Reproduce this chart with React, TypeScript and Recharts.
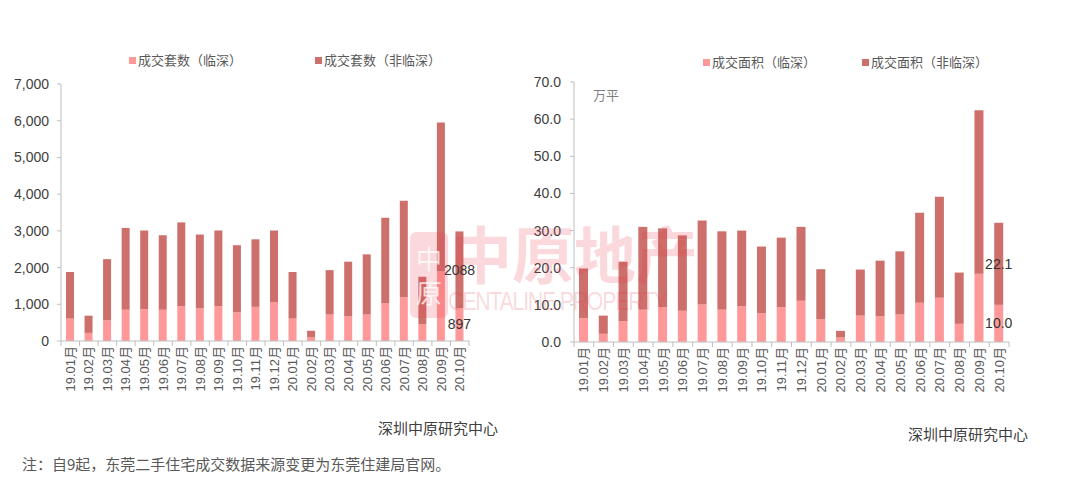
import React from 'react';
import { BarChart, Bar, XAxis, YAxis, LabelList } from 'recharts';

const months = [
  '19.01月', '19.02月', '19.03月', '19.04月', '19.05月', '19.06月', '19.07月', '19.08月', '19.09月', '19.10月', '19.11月',
  '19.12月', '20.01月', '20.02月', '20.03月', '20.04月', '20.05月', '20.06月', '20.07月', '20.08月', '20.09月', '20.10月',
];

// 成交套数
const unitsLinshen = [610, 220, 560, 850, 870, 850, 950, 890, 950, 780, 930, 1060, 610, 110, 720, 670, 720, 1030, 1190, 450, 1890, 897];
const unitsNonLinshen = [1270, 470, 1670, 2230, 2140, 2030, 2280, 2010, 2060, 1830, 1840, 1950, 1270, 170, 1210, 1490, 1640, 2330, 2630, 1300, 4060, 2088];

// 成交面积 (万平)
const areaLinshen = [6.4, 2.2, 5.6, 8.7, 9.4, 8.4, 10.1, 8.7, 9.6, 7.7, 9.4, 11.1, 6.1, 1.2, 7.1, 6.9, 7.4, 10.6, 11.9, 4.9, 18.4, 10.0];
const areaNonLinshen = [13.4, 4.9, 16.0, 22.3, 21.2, 20.3, 22.6, 21.1, 20.4, 18.0, 18.7, 19.9, 13.5, 1.8, 12.4, 15.0, 17.0, 24.2, 27.2, 13.8, 44.0, 22.1];

const unitTicks = [0, 1000, 2000, 3000, 4000, 5000, 6000, 7000];
const areaTicks = [0, 10, 20, 30, 40, 50, 60, 70];

const unitsLegend = ['成交套数（临深）', '成交套数（非临深）'];
const areaLegend = ['成交面积（临深）', '成交面积（非临深）'];

const LIGHT = '#FF9999';
const DARK = '#CD6F6B';
const AXIS = '#BFBFBF';
const FONT = '"Liberation Sans", "Noto Sans CJK SC", Arial, sans-serif';
const CJK = '"Noto Sans CJK SC", "Liberation Sans", sans-serif';

const unitsData = months.map((m, i) => ({ month: m, lin: unitsLinshen[i], non: unitsNonLinshen[i] }));
const areaData = months.map((m, i) => ({ month: m, lin: areaLinshen[i], non: areaNonLinshen[i] }));

const makeXTick = (band: number, count: number) => (props: any) => {
  const { x, y, payload, index } = props;
  return (
    <g transform={`translate(${x},${y})`}>
      <line x1={-band / 2} x2={-band / 2} y1={0} y2={5} stroke={AXIS} />
      {index === count - 1 ? <line x1={band / 2} x2={band / 2} y1={0} y2={5} stroke={AXIS} /> : null}
      <text
        transform="rotate(-90)"
        x={-5}
        y={0}
        dy="0.35em"
        textAnchor="end"
        fontSize={13}
        fill="#595959"
        fontFamily={FONT}
      >
        {payload.value}
      </text>
    </g>
  );
};

const makeLastLabel = (count: number, fmt: (v: number) => string) => (props: any) => {
  const { index, value } = props;
  const vb = props.viewBox || {};
  const x = props.x ?? vb.x;
  const y = props.y ?? vb.y;
  const width = props.width ?? vb.width;
  const height = props.height ?? vb.height;
  if (index !== count - 1) return null;
  return (
    <text
      x={x + width / 2}
      y={y + height / 2}
      dy="0.35em"
      textAnchor="middle"
      fontSize={14}
      fill="#333333"
      fontFamily={FONT}
    >
      {fmt(Number(value))}
    </text>
  );
};

const LegendItem = ({ left, top, color, label }: { left: number; top: number; color: string; label: string }) => (
  <div style={{ position: 'absolute', left, top, display: 'flex', alignItems: 'center', whiteSpace: 'nowrap' }}>
    <span style={{ display: 'inline-block', width: 7, height: 7, background: color, marginRight: 2 }} />
    <span style={{ fontSize: 13, color: '#595959', fontFamily: CJK, lineHeight: '16px' }}>{label}</span>
  </div>
);

export default function App() {
  const n = months.length;
  return (
    <div
      style={{
        position: 'absolute',
        left: 0,
        top: 0,
        width: 1080,
        height: 490,
        background: '#ffffff',
        overflow: 'hidden',
        fontFamily: FONT,
      }}
    >
      {/* Left chart */}
      <div style={{ position: 'absolute', left: 0, top: 0 }}>
        <BarChart width={540} height={400} data={unitsData} margin={{ top: 84, right: 71, bottom: 4, left: 0 }}>
          <XAxis
            dataKey="month"
            interval={0}
            height={55}
            tickSize={0}
            tickMargin={0}
            axisLine={{ stroke: AXIS }}
            tickLine={false}
            tick={makeXTick(408 / 22, n)}
          />
          <YAxis
            width={61}
            domain={[0, 7000]}
            ticks={unitTicks}
            interval={0}
            tickSize={4}
            tickMargin={8}
            axisLine={{ stroke: AXIS }}
            tickLine={{ stroke: AXIS }}
            tick={{ fontSize: 14, fill: '#404040', fontFamily: FONT }}
            tickFormatter={(v: number) => v.toLocaleString('en-US')}
          />
          <Bar dataKey="lin" stackId="a" fill={LIGHT} barSize={8} isAnimationActive={false}>
            <LabelList dataKey="lin" content={makeLastLabel(n, (v) => String(v))} />
          </Bar>
          <Bar dataKey="non" stackId="a" fill={DARK} barSize={8} isAnimationActive={false}>
            <LabelList dataKey="non" content={makeLastLabel(n, (v) => String(v))} />
          </Bar>
        </BarChart>
      </div>

      {/* Right chart */}
      <div style={{ position: 'absolute', left: 520, top: 0 }}>
        <BarChart width={560} height={400} data={areaData} margin={{ top: 82, right: 71, bottom: 3, left: 0 }}>
          <XAxis
            dataKey="month"
            interval={0}
            height={55}
            tickSize={0}
            tickMargin={0}
            axisLine={{ stroke: AXIS }}
            tickLine={false}
            tick={makeXTick(435 / 22, n)}
          />
          <YAxis
            width={54}
            domain={[0, 70]}
            ticks={areaTicks}
            interval={0}
            tickSize={4}
            tickMargin={9}
            axisLine={{ stroke: AXIS }}
            tickLine={{ stroke: AXIS }}
            tick={{ fontSize: 14, fill: '#404040', fontFamily: FONT }}
            tickFormatter={(v: number) => v.toFixed(1)}
          />
          <Bar dataKey="lin" stackId="b" fill={LIGHT} barSize={9} isAnimationActive={false}>
            <LabelList dataKey="lin" content={makeLastLabel(n, (v) => v.toFixed(1))} />
          </Bar>
          <Bar dataKey="non" stackId="b" fill={DARK} barSize={9} isAnimationActive={false}>
            <LabelList dataKey="non" content={makeLastLabel(n, (v) => v.toFixed(1))} />
          </Bar>
        </BarChart>
      </div>

      {/* Legends */}
      <LegendItem left={129} top={52} color={LIGHT} label={unitsLegend[0]} />
      <LegendItem left={315} top={52} color={DARK} label={unitsLegend[1]} />
      <LegendItem left={703} top={54} color={LIGHT} label={areaLegend[0]} />
      <LegendItem left={862} top={54} color={DARK} label={areaLegend[1]} />

      {/* Unit label */}
      <div style={{ position: 'absolute', left: 593, top: 85, fontSize: 13, color: '#7F7F7F', fontFamily: CJK }}>万平</div>

      {/* Sources */}
      <div style={{ position: 'absolute', left: 378, top: 418, fontSize: 15, color: '#404040', fontFamily: CJK, lineHeight: '20px' }}>
        深圳中原研究中心
      </div>
      <div style={{ position: 'absolute', left: 908, top: 424, fontSize: 15, color: '#404040', fontFamily: CJK, lineHeight: '20px' }}>
        深圳中原研究中心
      </div>
      <div style={{ position: 'absolute', left: 22, top: 454, fontSize: 15, color: '#595959', fontFamily: CJK, lineHeight: '20px' }}>
        注：自9起，东莞二手住宅成交数据来源变更为东莞住建局官网。
      </div>

      {/* Watermark */}
      <div style={{ position: 'absolute', left: 0, top: 0, width: 1080, height: 490, pointerEvents: 'none' }}>
        <div
          style={{
            position: 'absolute',
            left: 410,
            top: 232,
            width: 38,
            height: 86,
            borderRadius: 6,
            background: 'rgba(228,60,75,0.2)',
            display: 'flex',
            flexDirection: 'column',
            alignItems: 'center',
            justifyContent: 'center',
            color: 'rgba(255,255,255,0.75)',
            fontFamily: CJK,
            fontSize: 26,
            lineHeight: '34px',
          }}
        >
          <span>中</span>
          <span>原</span>
        </div>
        <div
          style={{
            position: 'absolute',
            left: 450,
            top: 212,
            fontSize: 62,
            fontWeight: 700,
            color: 'rgba(228,60,75,0.2)',
            fontFamily: CJK,
            lineHeight: '80px',
            whiteSpace: 'nowrap',
          }}
        >
          中原地产
        </div>
        <div
          style={{
            position: 'absolute',
            left: 448,
            top: 286,
            fontSize: 26,
            color: 'rgba(228,60,75,0.2)',
            fontFamily: FONT,
            lineHeight: '30px',
            whiteSpace: 'nowrap',
            letterSpacing: -1.5,
            transform: 'scaleX(0.82)',
            transformOrigin: 'left top',
          }}
        >
          CENTALINE PROPERTY
        </div>
      </div>
    </div>
  );
}
